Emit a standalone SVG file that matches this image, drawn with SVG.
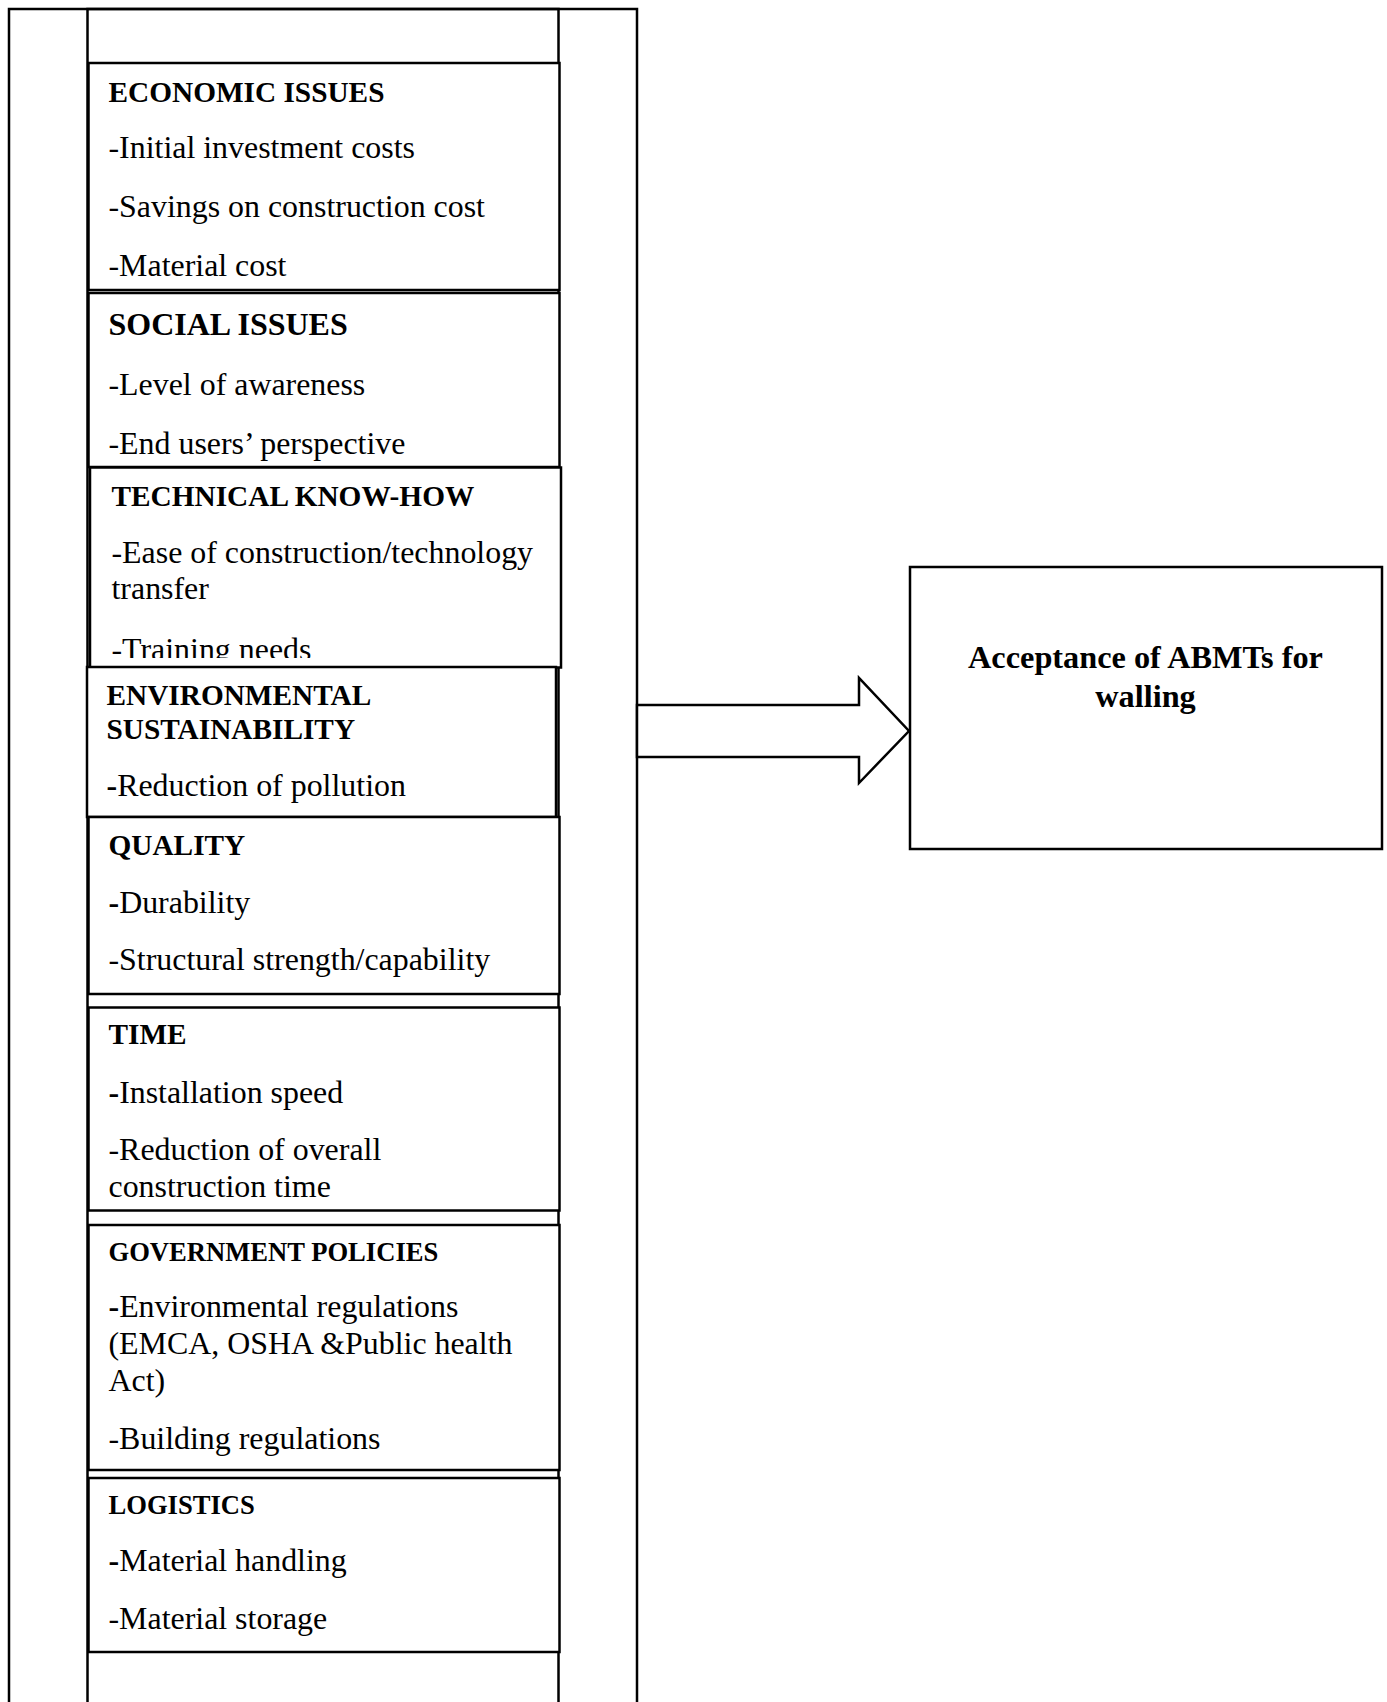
<svg xmlns="http://www.w3.org/2000/svg" width="1387" height="1702" viewBox="0 0 1387 1702">
<style>
.frame{fill:none;stroke:#000;stroke-width:2.5}
.box{fill:#fff;stroke:#000;stroke-width:2.5}
text{font-family:"Liberation Serif","Times New Roman",serif;fill:#000}
.h{font-weight:bold;font-size:29.3px}
.hs{font-weight:bold;font-size:26.6px}
.hl{font-weight:bold;font-size:32px}
.ha{font-weight:bold;font-size:32.3px}
.t{font-size:31.9px}
.b{font-weight:bold}
</style>
<defs>
<clipPath id="clipTech"><rect x="90" y="467" width="471" height="191"/></clipPath>
</defs>
<rect width="1387" height="1702" fill="#fff"/>
<g id="outer-frame">
<rect class="frame" x="9" y="9" width="628" height="1720"/>
<rect class="frame" x="87.5" y="9" width="471" height="1720"/>
</g>
<g id="economic">
<rect class="box" x="88.5" y="63" width="471" height="227"/>
<text class="h" x="108.5" y="102">ECONOMIC ISSUES</text>
<text class="t" x="108.5" y="158">-Initial investment costs</text>
<text class="t" x="108.5" y="217">-Savings on construction cost</text>
<text class="t" x="108.5" y="276">-Material cost</text>
</g>
<g id="social">
<rect class="box" x="88.5" y="293" width="471" height="174"/>
<text class="hl" x="108.5" y="334.5">SOCIAL ISSUES</text>
<text class="t" x="108.5" y="395">-Level of awareness</text>
<text class="t" x="108.5" y="454">-End users’ perspective</text>
</g>
<g id="technical">
<rect class="box" x="90" y="467.5" width="471" height="200"/>
<text class="h" x="111.5" y="506">TECHNICAL KNOW-HOW</text>
<text class="t" x="111.5" y="563">-Ease of construction/technology</text>
<text class="t" x="111.5" y="599">transfer</text>
<text class="t" x="111.5" y="660" clip-path="url(#clipTech)">-Training needs</text>
</g>
<g id="environmental">
<rect class="box" x="87" y="667" width="469" height="150"/>
<text class="h" x="106.5" y="705">ENVIRONMENTAL</text>
<text class="h" x="106.5" y="739">SUSTAINABILITY</text>
<text class="t" x="106.5" y="796"><tspan class="b">-</tspan>Reduction of pollution</text>
</g>
<g id="quality">
<rect class="box" x="88.5" y="817" width="471" height="177"/>
<text class="h" x="108.5" y="855">QUALITY</text>
<text class="t" x="108.5" y="913"><tspan class="b">-</tspan>Durability</text>
<text class="t" x="108.5" y="970">-Structural strength/capability</text>
</g>
<g id="time">
<rect class="box" x="88.5" y="1007.5" width="471" height="203"/>
<text class="h" x="108.5" y="1044">TIME</text>
<text class="t" x="108.5" y="1102.5"><tspan class="b">-</tspan>Installation speed</text>
<text class="t" x="108.5" y="1159.5">-Reduction of overall</text>
<text class="t" x="108.5" y="1196.5">construction time</text>
</g>
<g id="government">
<rect class="box" x="88.5" y="1225" width="471" height="245"/>
<text class="hs" x="108.5" y="1260.5">GOVERNMENT POLICIES</text>
<text class="t" x="108.5" y="1316.5"><tspan class="b">-</tspan>Environmental regulations</text>
<text class="t" x="108.5" y="1354">(EMCA, OSHA &amp;Public health</text>
<text class="t" x="108.5" y="1391">Act)</text>
<text class="t" x="108.5" y="1449">-Building regulations</text>
</g>
<g id="logistics">
<rect class="box" x="88.5" y="1478" width="471" height="174"/>
<text class="hs" x="108.5" y="1513.5">LOGISTICS</text>
<text class="t" x="108.5" y="1571"><tspan class="b">-</tspan>Material handling</text>
<text class="t" x="108.5" y="1629">-Material storage</text>
</g>
<g id="acceptance">
<rect class="box" x="910" y="567" width="472" height="282"/>
<text class="ha" x="1145.5" y="668" text-anchor="middle">Acceptance of ABMTs for</text>
<text class="ha" x="1145.5" y="707" text-anchor="middle">walling</text>
</g>
<g id="connectors">
<path class="box" d="M637,705 H859 V678 L909,731 L859,783 V757 H637 Z"/>
</g>
</svg>
